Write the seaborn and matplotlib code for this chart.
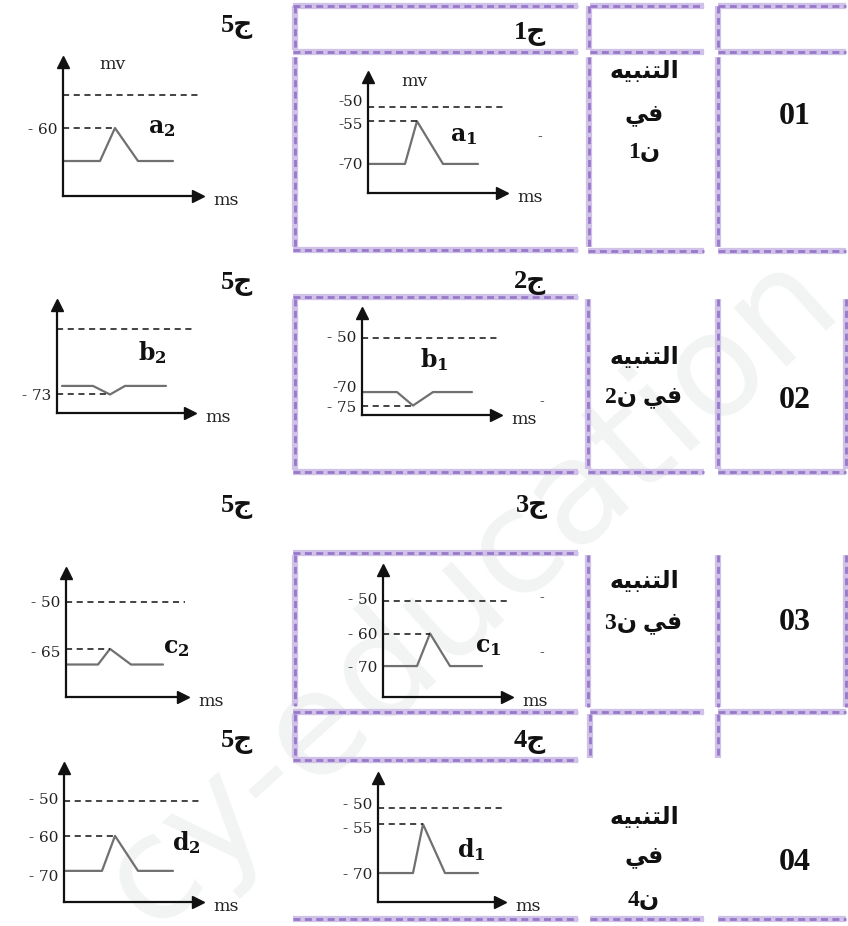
import matplotlib
matplotlib.use("Agg")
import matplotlib.pyplot as plt
from matplotlib.transforms import ScaledTranslation
import seaborn as sns
import pandas as pd

sns.set_theme(style="white")
plt.rcParams["font.family"] = ["Liberation Serif", "DejaVu Sans"]
plt.rcParams["mathtext.fontset"] = "dejavuserif"

# ---------------- values ----------------
row_numbers = ["01", "02", "03", "04"]
stim_lines = [["التنبيه", "في", "ن1"],
              ["التنبيه", "في ن2"],
              ["التنبيه", "في ن3"],
              ["التنبيه", "في", "ن4"]]
question_labels = ["ج1", "ج2", "ج3", "ج4"]
answer_label = "ج5"

# oscillograms: time (ms, arbitrary units) / membrane potential (mV)
a1_t = [0, 3.7, 4.9, 7.5, 11.0]
a1_v = [-70, -70, -55, -70, -70]
a1_ref = [-50, -55]
a1_ref_end = [13.7, 4.9]
a1_ticks = [-50, -55, -70]
a1_tick_labels = ["-50", "-55", "-70"]

a2_t = [0, 3.7, 5.2, 7.5, 11.0]
a2_v = [-70, -70, -60, -70, -70]
a2_ref = [-50, -60]
a2_ref_end = [13.5, 5.2]
a2_ticks = [-60]
a2_tick_labels = ["- 60"]

b1_t = [0, 3.5, 5.1, 7.1, 11.0]
b1_v = [-70, -70, -75, -70, -70]
b1_ref = [-50, -75]
b1_ref_end = [13.6, 5.1]
b1_ticks = [-50, -70, -75]
b1_tick_labels = ["- 50", "-70", "- 75"]

b2_t = [0.5, 3.6, 5.3, 6.8, 10.9]
b2_v = [-70, -70, -73, -70, -70]
b2_ref = [-50, -73]
b2_ref_end = [13.5, 5.3]
b2_ticks = [-73]
b2_tick_labels = ["- 73"]

c1_t = [0, 3.4, 4.7, 6.7, 9.9]
c1_v = [-70, -70, -60, -70, -70]
c1_ref = [-50, -60]
c1_ref_end = [12.4, 4.7]
c1_ticks = [-50, -60, -70]
c1_tick_labels = ["- 50", "- 60", "- 70"]

c2_t = [0, 3.2, 4.4, 6.5, 9.7]
c2_v = [-70, -70, -65, -70, -70]
c2_ref = [-50, -65]
c2_ref_end = [11.9, 4.4]
c2_ticks = [-50, -65]
c2_tick_labels = ["- 50", "- 65"]

d1_t = [0, 3.5, 4.5, 6.7, 10.0]
d1_v = [-70, -70, -55, -70, -70]
d1_ref = [-50, -55]
d1_ref_end = [12.4, 4.5]
d1_ticks = [-50, -55, -70]
d1_tick_labels = ["- 50", "- 55", "- 70"]

d2_t = [0, 3.8, 5.1, 7.4, 10.9]
d2_v = [-70, -70, -60, -70, -70]
d2_ref = [-50, -60]
d2_ref_end = [13.6, 5.1]
d2_ticks = [-50, -60, -70]
d2_tick_labels = ["- 50", "- 60", "- 70"]

# ---------------- simple arabic shaping for matplotlib ----------------
FORMS = {  # isolated, final, initial, medial
    "ا": ("\ufe8d", "\ufe8e", None, None),
    "ل": ("\ufedd", "\ufede", "\ufedf", "\ufee0"),
    "ت": ("\ufe95", "\ufe96", "\ufe97", "\ufe98"),
    "ن": ("\ufee5", "\ufee6", "\ufee7", "\ufee8"),
    "ب": ("\ufe8f", "\ufe90", "\ufe91", "\ufe92"),
    "ي": ("\ufef1", "\ufef2", "\ufef3", "\ufef4"),
    "ه": ("\ufee9", "\ufeea", "\ufeeb", "\ufeec"),
    "ف": ("\ufed1", "\ufed2", "\ufed3", "\ufed4"),
    "ج": ("\ufe9d", "\ufe9e", "\ufe9f", "\ufea0"),
}


def shape(text):
    out = []
    for i, ch in enumerate(text):
        if ch not in FORMS:
            out.append(ch)
            continue
        prev = text[i - 1] if i > 0 else ""
        nxt = text[i + 1] if i + 1 < len(text) else ""
        jp = prev in FORMS and FORMS[prev][2] is not None
        jn = nxt in FORMS and FORMS[ch][2] is not None
        iso, fin, ini, med = FORMS[ch]
        out.append(med if jp and jn else fin if jp else ini if jn else iso)
    runs, cur = [], ""
    for ch in out:
        if cur and ch.isdigit() != cur[-1].isdigit():
            runs.append(cur)
            cur = ""
        cur += ch
    runs.append(cur)
    return "".join(r if r[0].isdigit() else r[::-1] for r in runs[::-1])


# ---------------- layout (pixels of the 848x926 page) ----------------
W, H = 848, 926
PURPLE_LIGHT = "#cfc1e8"
PURPLE = "#9878c9"

h_lines = [(6, 293, 578), (52, 293, 578), (250, 293, 578), (297, 293, 578),
           (472, 293, 578), (553, 293, 578), (712, 293, 578), (760, 293, 578),
           (919, 293, 578),
           (6, 590, 704), (52, 590, 704), (251, 588, 704), (472, 588, 704),
           (712, 590, 704), (919, 590, 704),
           (6, 718, 846), (52, 718, 846), (251, 718, 846), (472, 718, 846),
           (712, 718, 846), (919, 718, 846)]
v_lines = [(295, 6, 50), (295, 57, 247), (295, 299, 470), (295, 555, 706),
           (295, 714, 758),
           (589, 6, 50), (589, 57, 247), (588, 299, 469), (588, 555, 707),
           (590, 714, 758),
           (718, 6, 50), (718, 57, 247), (718, 299, 469), (718, 555, 707),
           (718, 714, 758),
           (846, 299, 469), (846, 555, 707)]

answer_pos = [(237, 27), (237, 284), (237, 507), (237, 742)]
question_pos = [(530, 34), (530, 283), (532, 507), (530, 742)]
number_pos = [(795, 117), (795, 400), (795, 623), (795, 862)]
stim_pos = [[72, 115, 153], [358, 398], [582, 623], [818, 858, 900]]
stray_marks = [(540, 137), (542, 402), (542, 598), (542, 653)]

# rect: y-axis x, x-axis y, arrow tip x, arrow top y (pixels); shift: tick label nudges (px, + = up)
plots = [
    dict(t=a2_t, v=a2_v, ref=a2_ref, ref_end=a2_ref_end, ticks=a2_ticks, labels=a2_tick_labels,
         rect=(63, 196, 198, 62), ylim=(-80.6, -40.0), name="a", sub="2", npos=(8.5, -60),
         mv=(0.27, 0.98), shift=[0]),
    dict(t=a1_t, v=a1_v, ref=a1_ref, ref_end=a1_ref_end, ticks=a1_ticks, labels=a1_tick_labels,
         rect=(368, 193, 502, 77), ylim=(-80.2, -39.5), name="a", sub="1", npos=(8.2, -60.5),
         mv=(0.25, 0.96), shift=[6, -2, 0]),
    dict(t=b2_t, v=b2_v, ref=b2_ref, ref_end=b2_ref_end, ticks=b2_ticks, labels=b2_tick_labels,
         rect=(57, 413, 190, 305), ylim=(-79.5, -41.6), name="b", sub="2", npos=(8.1, -58.4),
         mv=None, shift=[0]),
    dict(t=b1_t, v=b1_v, ref=b1_ref, ref_end=b1_ref_end, ticks=b1_ticks, labels=b1_tick_labels,
         rect=(362, 415, 496, 313), ylim=(-78.5, -40.7), name="b", sub="1", npos=(5.8, -58.1),
         mv=None, shift=[2, 6, -1]),
    dict(t=c2_t, v=c2_v, ref=c2_ref, ref_end=c2_ref_end, ticks=c2_ticks, labels=c2_tick_labels,
         rect=(66, 697, 183, 573), ylim=(-80.4, -40.7), name="c", sub="2", npos=(9.7, -65),
         mv=None, shift=[1, -3]),
    dict(t=c1_t, v=c1_v, ref=c1_ref, ref_end=c1_ref_end, ticks=c1_ticks, labels=c1_tick_labels,
         rect=(383, 697, 507, 570), ylim=(-79.5, -40.5), name="c", sub="1", npos=(9.2, -64.2),
         mv=None, shift=[2, 0, 0]),
    dict(t=d2_t, v=d2_v, ref=d2_ref, ref_end=d2_ref_end, ticks=d2_ticks, labels=d2_tick_labels,
         rect=(64, 902, 198, 768), ylim=(-78.9, -40.6), name="d", sub="2", npos=(10.8, -62),
         mv=None, shift=[2, -1, -5]),
    dict(t=d1_t, v=d1_v, ref=d1_ref, ref_end=d1_ref_end, ticks=d1_ticks, labels=d1_tick_labels,
         rect=(378, 902, 500, 778), ylim=(-78.9, -40.8), name="d", sub="1", npos=(7.9, -62.9),
         mv=None, shift=[4, -3, 0]),
]

fig = plt.figure(figsize=(W / 100, H / 100), dpi=100)
fig.patch.set_facecolor("white")

bg = fig.add_axes([0, 0, 1, 1])
bg.set_xlim(0, W)
bg.set_ylim(H, 0)
bg.axis("off")

# faint watermark (runs off the page edges, as in the scan)
bg.text(470, 590, "cy-education", rotation=42, fontsize=104, color="#f2f4f3",
        ha="center", va="center", family="DejaVu Sans", zorder=0)

# decorative purple cell borders
for y, x0, x1 in h_lines:
    bg.plot([x0, x1], [y, y], color=PURPLE_LIGHT, lw=4.5, solid_capstyle="butt", zorder=1)
    bg.plot([x0, x1], [y, y], color=PURPLE, lw=2.0, ls=(0, (2.5, 1.6)), zorder=2)
for x, y0, y1 in v_lines:
    bg.plot([x, x], [y0, y1], color=PURPLE_LIGHT, lw=4.5, solid_capstyle="butt", zorder=1)
    bg.plot([x, x], [y0, y1], color=PURPLE, lw=2.0, ls=(0, (2.5, 1.6)), zorder=2)

# headers and row texts
for (x, y) in answer_pos:
    bg.text(x, y, shape(answer_label), fontsize=19, fontweight="bold", ha="center", va="center", color="#111")
for lab, (x, y) in zip(question_labels, question_pos):
    bg.text(x, y, shape(lab), fontsize=19, fontweight="bold", ha="center", va="center", color="#111")
for num, (x, y) in zip(row_numbers, number_pos):
    bg.text(x, y, num, fontsize=23, fontweight="bold", ha="center", va="center", color="#111")
for lines, ys in zip(stim_lines, stim_pos):
    for txt, y in zip(lines, ys):
        bg.text(644, y, shape(txt), fontsize=17, fontweight="bold", ha="center", va="center",
                color="#111")
for x, y in stray_marks:
    bg.text(x, y, "-", fontsize=10, ha="center", va="center", color="#333", family="DejaVu Serif")

# oscillograms
for p in plots:
    x0, yb, xt, yt = p["rect"]
    ax = fig.add_axes([x0 / W, 1 - yb / H, (xt - x0) / W, (yb - yt) / H])
    ax.set_facecolor("none")
    df = pd.DataFrame({"t": p["t"], "v": p["v"]})
    sns.lineplot(data=df, x="t", y="v", ax=ax, color="#707070", lw=1.6)
    ax.hlines(p["ref"], 0, p["ref_end"], colors="#111", linestyles=(0, (4, 3)), lw=1.1,
              clip_on=False)
    ax.set_xlim(0, (xt - x0) / 10)
    ax.set_ylim(*p["ylim"])
    ax.set_xlabel("")
    ax.set_ylabel("")
    ax.set_xticks([])
    ax.set_yticks(p["ticks"], p["labels"])
    ax.tick_params(axis="y", length=0, pad=4, labelsize=11, labelcolor="#222")
    for lab, dy in zip(ax.get_yticklabels(), p["shift"]):
        lab.set_fontfamily("DejaVu Serif")
        lab.set_transform(lab.get_transform() + ScaledTranslation(0, dy / 100, fig.dpi_scale_trans))
    for s in ["top", "right"]:
        ax.spines[s].set_visible(False)
    for s in ["left", "bottom"]:
        ax.spines[s].set_color("#111")
        ax.spines[s].set_linewidth(1.6)
    ax.plot(1, 0, ">", color="#111", ms=8, transform=ax.transAxes, clip_on=False)
    ax.plot(0, 1, "^", color="#111", ms=8, transform=ax.transAxes, clip_on=False)
    ax.annotate("ms", xy=(1, 0), xycoords="axes fraction", xytext=(11, -3),
                textcoords="offset points", ha="left", va="center", fontsize=12.5,
                family="DejaVu Serif", color="#222")
    if p["mv"]:
        ax.text(p["mv"][0], p["mv"][1], "mv", transform=ax.transAxes, ha="left", va="center",
                fontsize=12.5, family="DejaVu Serif", color="#222")
    ax.text(p["npos"][0], p["npos"][1], r"$\mathbf{%s}_{\mathbf{%s}}$" % (p["name"], p["sub"]),
            fontsize=17, ha="left", va="center", color="#111")

fig.savefig("out.png", dpi=100)
